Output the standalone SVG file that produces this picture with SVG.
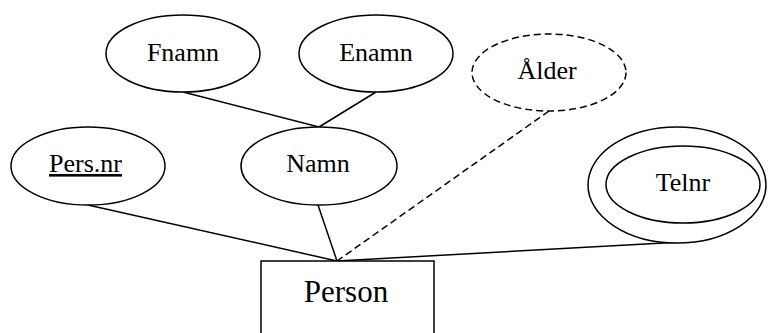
<svg xmlns="http://www.w3.org/2000/svg" width="768" height="333" viewBox="0 0 768 333">
  <style>
    .shape { fill: #fff; stroke: #000; stroke-width: 1.5; }
    .dashed { stroke-dasharray: 7 4; }
    .edge { fill: none; stroke: #000; stroke-width: 1.5; }
    .label { font-family: "Liberation Serif", "Times New Roman", serif; font-size: 26px; text-anchor: middle; fill: #000; }
    .entity { font-size: 31px; }
  </style>
  <rect width="768" height="333" fill="#fff"/>
  <g id="connectors">
    <line class="edge" x1="183" y1="92" x2="319" y2="127"/>
    <line class="edge" x1="376" y1="92" x2="319" y2="127"/>
    <line class="edge" x1="88" y1="205" x2="337" y2="261"/>
    <line class="edge" x1="318" y1="205" x2="337" y2="261"/>
    <line class="edge dashed" x1="549" y1="111" x2="337" y2="261"/>
    <line class="edge" x1="682" y1="242" x2="337" y2="261"/>
  </g>
  <g id="fnamn">
    <ellipse class="shape" cx="183" cy="53.5" rx="77" ry="38.5"/>
    <text class="label" x="183" y="61">Fnamn</text>
  </g>
  <g id="enamn">
    <ellipse class="shape" cx="376" cy="53.5" rx="77" ry="38.5"/>
    <text class="label" x="376" y="61">Enamn</text>
  </g>
  <g id="alder">
    <ellipse class="shape dashed" cx="549" cy="72.5" rx="77" ry="38.5"/>
    <text class="label" x="547" y="79">Ålder</text>
  </g>
  <g id="persnr">
    <ellipse class="shape" cx="88" cy="166" rx="77" ry="39"/>
    <text class="label" x="85.5" y="172" text-decoration="underline">Pers.nr</text>
  </g>
  <g id="namn">
    <ellipse class="shape" cx="319" cy="166" rx="78" ry="39"/>
    <text class="label" x="318" y="172">Namn</text>
  </g>
  <g id="telnr">
    <ellipse class="shape" cx="677" cy="185" rx="89" ry="58"/>
    <ellipse class="shape" cx="683" cy="184.5" rx="77" ry="38.5"/>
    <text class="label" x="683" y="191">Telnr</text>
  </g>
  <g id="person">
    <rect class="shape" x="261" y="261" width="173" height="80"/>
    <text class="label entity" x="346" y="302">Person</text>
  </g>
</svg>
